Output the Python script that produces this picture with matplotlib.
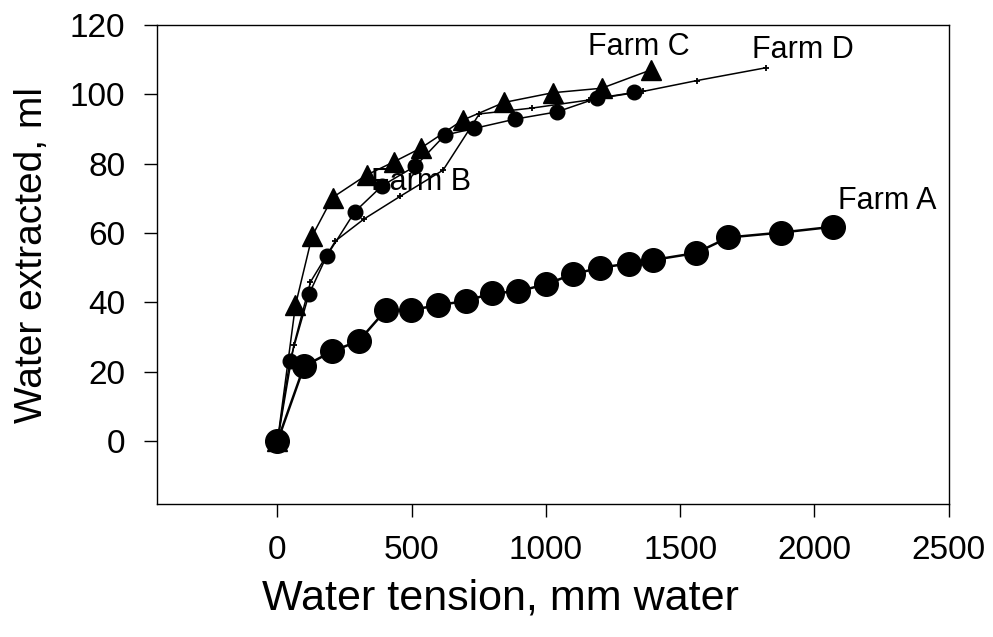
import matplotlib
matplotlib.use("Agg")
import matplotlib.pyplot as plt

plt.rcParams['font.family'] = ['Liberation Sans', 'DejaVu Sans']

# Farm A (large circles)
farm_a_x = [0, 99, 204, 303, 404, 498, 599, 702, 799, 897, 1000, 1100, 1202, 1311, 1398, 1558, 1680, 1875, 2071]
farm_a_y = [0, 21.6, 25.9, 28.9, 37.8, 37.8, 39.2, 40.4, 42.6, 43.2, 45.2, 48.1, 50.0, 51.2, 52.2, 54.2, 58.7, 60.1, 61.8]

# Farm B (small circles)
farm_b_x = [0, 46, 117, 183, 288, 390, 514, 624, 732, 885, 1042, 1189, 1330]
farm_b_y = [0, 23.1, 42.3, 53.3, 66.1, 73.6, 79.3, 88.2, 90.1, 92.8, 94.9, 98.8, 100.5]

# Farm C (triangles)
farm_c_x = [0, 67, 129, 205, 332, 434, 533, 690, 844, 1025, 1208, 1392]
farm_c_y = [0, 39.2, 59.1, 70.2, 76.7, 80.5, 84.4, 92.5, 97.6, 100.4, 101.7, 107.0]

# Farm D (small plus)
farm_d_x = [0, 61, 123, 216, 322, 458, 617, 752, 950, 1160, 1363, 1562, 1820]
farm_d_y = [0, 27.7, 45.9, 57.7, 64.0, 70.6, 78.1, 94.3, 96.0, 98.3, 100.8, 103.9, 107.6]

labels = ["Farm A", "Farm B", "Farm C", "Farm D"]
x_ticks = [0, 500, 1000, 1500, 2000, 2500]
y_ticks = [0, 20, 40, 60, 80, 100, 120]

fig = plt.figure(figsize=(9.93, 6.37), dpi=100)
ax = fig.add_axes([0.1578, 0.2093, 0.9552 - 0.1578, 0.9612 - 0.2093])

ax.plot(farm_d_x, farm_d_y, color='black', lw=1.1, marker='+', ms=5, mew=1.3)
ax.plot(farm_b_x, farm_b_y, color='black', lw=1.1, marker='o', ms=10.5)
ax.plot(farm_c_x, farm_c_y, color='black', lw=1.1, marker='^', ms=15)
ax.plot(farm_a_x, farm_a_y, color='black', lw=1.8, marker='o', ms=17)

ax.text(2089, 69.2, labels[0], fontsize=22, va='center', ha='left')
ax.text(350, 74.7, labels[1], fontsize=22, va='center', ha='left')
ax.text(1157, 113.6, labels[2], fontsize=22, va='center', ha='left')
ax.text(1768, 112.7, labels[3], fontsize=22, va='center', ha='left')

ax.set_xlim(-450, 2500)
ax.set_ylim(-18, 120)
ax.set_xticks(x_ticks)
ax.set_yticks(y_ticks)
ax.tick_params(direction='out', length=9.5, width=1, labelsize=24, pad=13)
for s in ax.spines.values():
    s.set_linewidth(1.0)

ax.set_xlabel("Water tension, mm water", fontsize=31)
ax.set_ylabel("Water extracted, ml", fontsize=28)
ax.xaxis.label.set_va('center')
ax.yaxis.label.set_va('center')
ax.xaxis.set_label_coords(0.4336, -0.197)
ax.yaxis.set_label_coords(-0.158, 0.52)

fig.savefig("out.png", dpi=100)
